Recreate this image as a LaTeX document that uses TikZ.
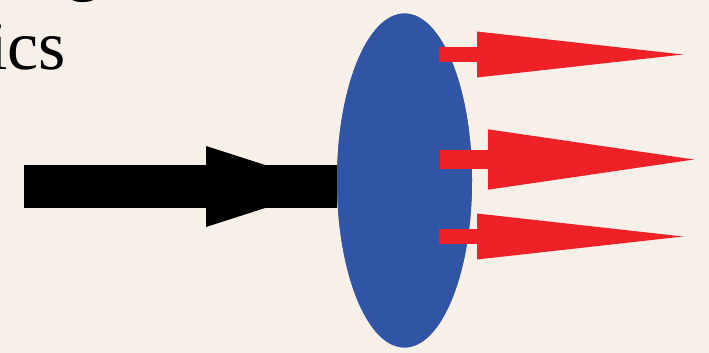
\documentclass[tikz,border=0pt]{standalone}
\usepackage{fontspec}
\setmainfont{Liberation Serif}
\usetikzlibrary{arrows.meta,calc,shapes.geometric}
\definecolor{paper}{HTML}{F6F0E9}
\definecolor{lensblue}{HTML}{3155A5}
\definecolor{rayred}{HTML}{EE2226}

\begin{document}
\begin{tikzpicture}[x=1pt,y=-1pt,
 lens/.style={ellipse,fill=lensblue,minimum width=135pt,minimum height=334pt,inner sep=0pt},
 inray/.style={line width=43pt,black},
 outray/.style={rayred,line width=14.4pt,-{Triangle[length=206pt,width=46pt,line width=0pt]}},
 titletext/.style={inner sep=0pt,font=\fontsize{70}{84}\selectfont}]
\fill[paper] (0,0) rectangle (709,353);
\useasboundingbox (0,0) rectangle (709,353);
\clip (0,0) rectangle (709,353);

% title text, cut off at the edge
\node[titletext,anchor=base] (gtail) at (84,-12.5) {g};
\node[titletext,anchor=base west] (title) at (-12,70) {ics};

% incoming beam
\coordinate (src) at (24,186.5);
\coordinate (intip) at (332,186.5);
\node[lens] (lens) at (404.5,180.5) {};
\draw[inray] (src) -- (lens.west |- src);
\draw[inray,-{Triangle[length=126pt,width=81pt,line width=0pt]}] (src) -- (intip);
\node[lens] at (lens.center) {};

% outgoing rays
\coordinate (r1) at ($(lens.center)+(34.5,-126)$);
\coordinate (r2) at ($(lens.center)+(35.5,-21)$);
\coordinate (r3) at ($(lens.center)+(34.5,56)$);
\coordinate (t1) at (683,54.5);
\coordinate (t2) at (694,159.5);
\coordinate (t3) at (683,236.5);
\draw[outray] (r1) -- (t1);
\draw[outray,line width=19pt,-{Triangle[length=206pt,width=60.4pt,line width=0pt]}] (r2) -- (t2);
\draw[outray] (r3) -- (t3);
\end{tikzpicture}
\end{document}
